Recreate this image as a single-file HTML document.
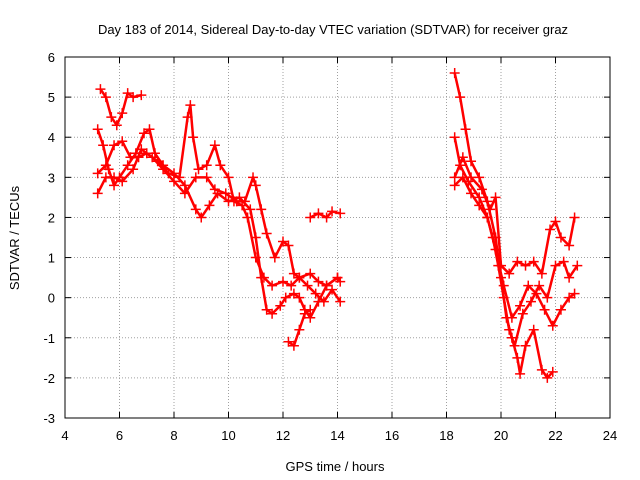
<!DOCTYPE html>
<html><head><meta charset="utf-8"><style>
body{margin:0;background:#fff}
svg{display:block;font-family:"Liberation Sans",sans-serif}
</style></head><body>
<svg id="chart" width="640" height="480">
<text x="333" y="34" font-size="13" text-anchor="middle">Day 183 of 2014, Sidereal Day-to-day VTEC variation (SDTVAR) for receiver graz</text>
<text x="335" y="471" font-size="13" text-anchor="middle">GPS time / hours</text>
<text transform="translate(19,238) rotate(-90)" font-size="13" text-anchor="middle">SDTVAR / TECUs</text>
<g id="grid"></g>
<g id="ticks"></g>
<g id="series"></g>
<rect x="65" y="57" width="545" height="361" fill="none" stroke="#000"/>
</svg>
<script>
const xTicks=[4,6,8,10,12,14,16,18,20,22,24];
const yTicks=[-3,-2,-1,0,1,2,3,4,5,6];
const traceA=[[5.3,5.2],[5.5,5.0],[5.7,4.5],[5.9,4.3],[6.1,4.6],[6.3,5.1],[6.5,5.0],[6.8,5.05]];
const traceB=[[5.2,4.2],[5.4,3.8],[5.6,3.2],[5.8,2.8],[6.0,3.0],[6.3,3.3],[6.6,3.6],[6.9,4.1],[7.1,4.2],[7.3,3.6],[7.6,3.3],[8.0,3.1],[8.4,2.8],[8.8,2.2],[9.0,2.0],[9.3,2.3],[9.6,2.6],[10.0,2.4],[10.4,2.5],[10.8,2.2],[11.0,1.5],[11.2,0.5],[11.4,-0.3],[11.6,-0.4],[11.9,-0.2],[12.1,0.0],[12.4,0.1],[12.6,0.0],[12.8,-0.3],[13.0,-0.5],[13.3,-0.1],[13.6,0.3],[14.0,0.5]];
const traceC=[[5.2,3.1],[5.5,3.3],[5.8,3.8],[6.1,3.9],[6.4,3.5],[6.7,3.5],[7.0,3.6],[7.4,3.4],[7.8,3.1],[8.2,3.0],[8.5,4.5],[8.6,4.8],[8.7,4.0],[8.9,3.2],[9.2,3.3],[9.5,3.8],[9.7,3.3],[10.0,3.0],[10.2,2.4],[10.5,2.3],[10.7,2.0],[11.0,1.0],[11.3,0.5],[11.6,0.3],[12.0,0.4],[12.3,0.3],[12.6,0.5],[13.0,0.6],[13.3,0.4],[13.6,0.3],[14.0,0.5],[14.1,0.4]];
const traceD=[[5.2,2.6],[5.5,3.0],[5.8,3.0],[6.1,2.9],[6.5,3.2],[6.8,3.7],[7.2,3.5],[7.6,3.2],[8.0,2.9],[8.4,2.6],[8.8,3.0],[9.2,3.0],[9.5,2.7],[9.9,2.6],[10.3,2.4],[10.6,2.4],[10.9,3.0],[11.0,2.8],[11.2,2.2],[11.4,1.6],[11.7,1.0],[12.0,1.4],[12.2,1.3],[12.4,0.6],[12.6,0.5],[12.9,0.3],[13.2,0.1],[13.5,-0.1],[13.8,0.2],[14.1,-0.1]];
const traceE=[[12.2,-1.1],[12.4,-1.2],[12.6,-0.8],[12.8,-0.4],[13.0,-0.3]];
const traceF=[[13.0,2.0],[13.3,2.1],[13.6,2.0],[13.8,2.15],[14.1,2.1]];
const traceG=[[18.3,5.6],[18.5,5.0],[18.7,4.2],[18.9,3.4],[19.2,3.0],[19.5,2.4],[19.8,1.5],[20.0,0.5],[20.2,-0.5],[20.4,-1.0],[20.6,-1.5],[20.7,-1.9],[20.9,-1.2],[21.2,-0.8],[21.5,-1.8],[21.7,-2.0],[21.9,-1.85]];
const traceH=[[18.3,4.0],[18.5,3.3],[18.8,2.9],[19.2,2.5],[19.5,2.0],[19.8,1.2],[20.1,0.3],[20.4,-0.5],[20.7,-0.2],[21.0,0.3],[21.3,0.1],[21.6,-0.3],[21.9,-0.7],[22.2,-0.3],[22.5,0.0],[22.7,0.1]];
const traceI=[[18.3,3.0],[18.6,3.5],[18.9,3.0],[19.3,2.7],[19.6,2.2],[19.8,2.5],[20.0,0.8],[20.3,0.6],[20.6,0.9],[20.9,0.8],[21.2,0.9],[21.5,0.6],[21.8,1.7],[22.0,1.9],[22.2,1.5],[22.5,1.3],[22.7,2.0]];
const traceJ=[[18.3,2.8],[18.6,3.0],[18.9,2.6],[19.2,2.3],[19.5,2.0],[19.7,1.5],[19.9,0.8],[20.1,0.0],[20.3,-0.8],[20.5,-1.2],[20.8,-0.4],[21.1,-0.1],[21.4,0.3],[21.7,0.0],[22.0,0.8],[22.3,0.9],[22.5,0.5],[22.8,0.8]];
const traces=[traceA,traceB,traceC,traceD,traceE,traceF,traceG,traceH,traceI,traceJ];

const NS="http://www.w3.org/2000/svg";
const X0=65,X1=610,Y0=418,Y1=57;
function sx(v){return X0+(v-4)/(24-4)*(X1-X0);}
function sy(v){return Y0-(v+3)/(6+3)*(Y0-Y1);}
function mk(tag,attrs,parent){const e=document.createElementNS(NS,tag);for(const k in attrs)e.setAttribute(k,attrs[k]);parent.appendChild(e);return e;}
const grid=document.getElementById('grid'),ticks=document.getElementById('ticks'),ser=document.getElementById('series');
xTicks.forEach(t=>{const x=sx(t);
 if(t>4&&t<24){const g=mk('line',{x1:x,x2:x,y1:Y1,y2:Y0,stroke:'#a0a0a0','stroke-dasharray':'1,2'},grid);
 
 }
 mk('line',{x1:x,x2:x,y1:Y0,y2:Y0-6,stroke:'#000'},ticks);
 mk('line',{x1:x,x2:x,y1:Y1,y2:Y1+6,stroke:'#000'},ticks);
 const l=mk('text',{x:x,y:Y0+22,'font-size':'13','text-anchor':'middle'},ticks);l.textContent=t;
 
 
});
yTicks.forEach(t=>{const y=sy(t);
 if(t>-3&&t<6){const g=mk('line',{x1:X0,x2:X1,y1:y,y2:y,stroke:'#a0a0a0','stroke-dasharray':'1,2'},grid);
 
 }
 mk('line',{x1:X0,x2:X0+6,y1:y,y2:y,stroke:'#000'},ticks);
 mk('line',{x1:X1,x2:X1-6,y1:y,y2:y,stroke:'#000'},ticks);
 const l=mk('text',{x:X0-10,y:y+5,'font-size':'13','text-anchor':'end'},ticks);l.textContent=t;
 
 
});
traces.forEach((tr)=>{
 const pts=tr.map(p=>sx(p[0])+','+sy(p[1])).join(' ');
 const pl=mk('polyline',{points:pts,fill:'none',stroke:'#ff0000','stroke-width':'2.5','stroke-linejoin':'round'},ser);
 
 
 tr.forEach(p=>{const x=sx(p[0]),y=sy(p[1]);
  const m=mk('path',{d:`M${x-5},${y}H${x+5}M${x},${y-5}V${y+5}`,stroke:'#ff0000','stroke-width':'1.5'},ser);
  
  
 });
});
</script>
</body></html>
